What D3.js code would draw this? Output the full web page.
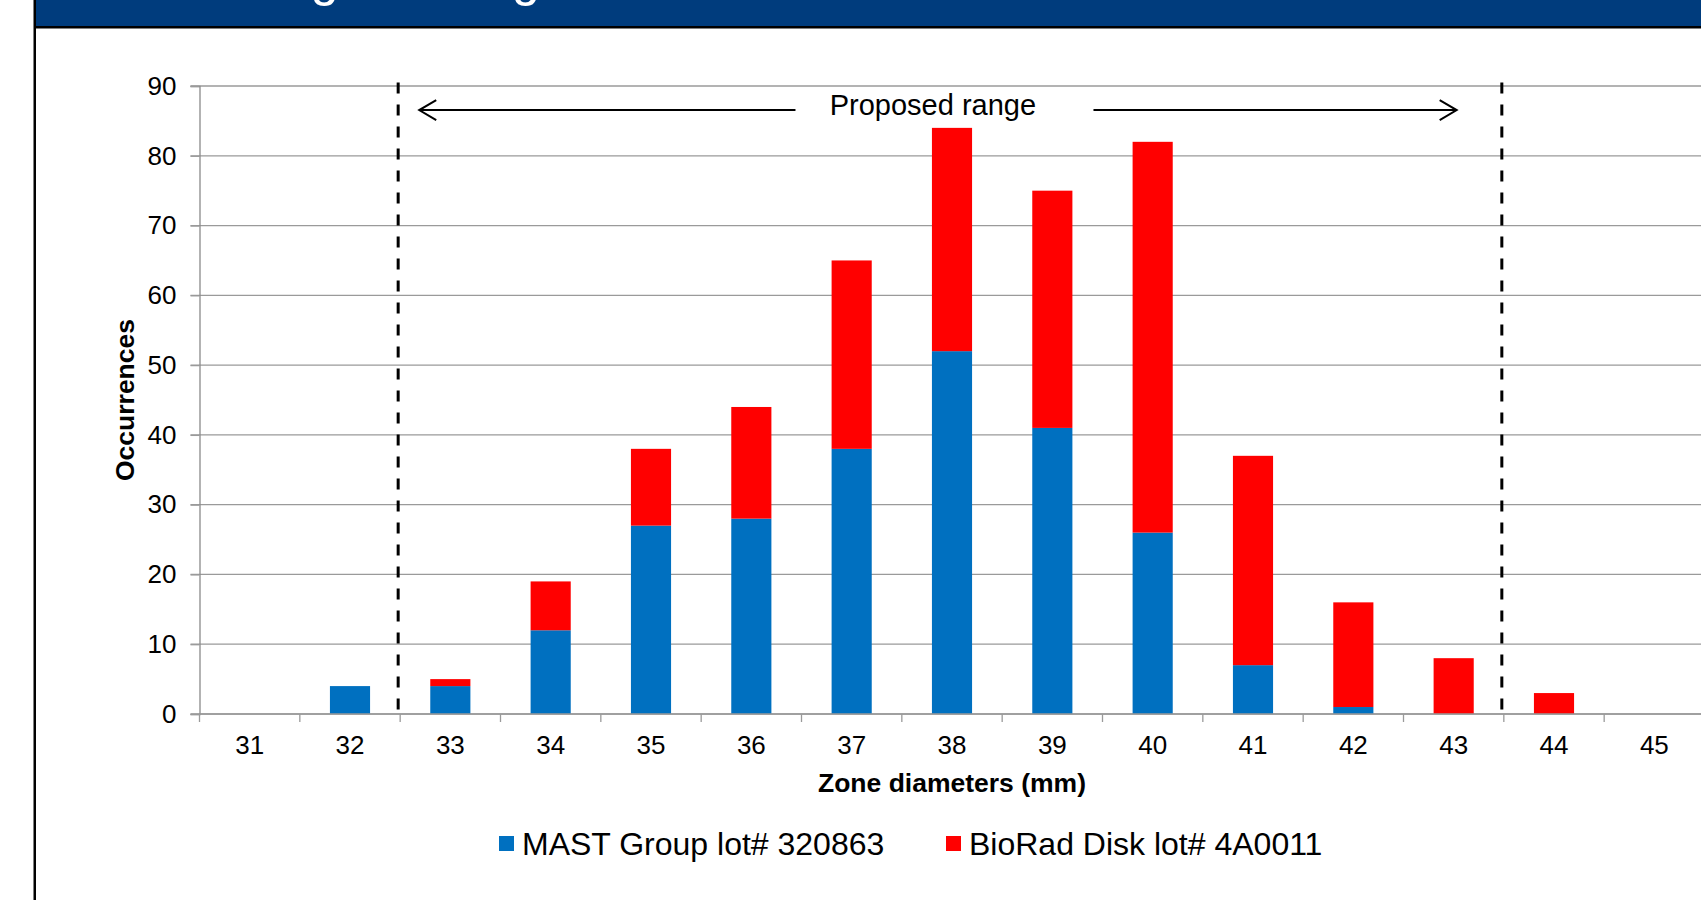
<!DOCTYPE html>
<html>
<head>
<meta charset="utf-8">
<script src="https://cdn.jsdelivr.net/npm/d3@7"></script>
<style>
  html, body { margin: 0; padding: 0; background: #fff; overflow: hidden; }
  svg { display: block; font-family: "Liberation Sans", Arial, sans-serif; }
</style>
</head>
<body>
<svg id="chart" width="1701" height="900"></svg>
<script>
const categories = ["31","32","33","34","35","36","37","38","39","40","41","42","43","44","45"];
const mastValues = [0, 4, 4, 12, 27, 28, 38, 52, 41, 26, 7, 1, 0, 0, 0];
const bioradValues = [0, 0, 1, 7, 11, 16, 27, 32, 34, 56, 30, 15, 8, 3, 0];
const seriesNames = ["MAST Group lot# 320863", "BioRad Disk lot# 4A0011"];
const seriesKeys = ["mast", "biorad"];
const seriesColors = ["#0070C0", "#FF0000"];
const yTicks = [0, 10, 20, 30, 40, 50, 60, 70, 80, 90];
const rangeBounds = [32.5, 43.5];           // dashed limits (between categories)
const rangeLabel = "Proposed range";
const headerTitle = "Setting the range";
const xTitle = "Zone diameters (mm)";
const yTitle = "Occurrences";

const svg = d3.select("#chart");
const W = 1701;
const plot = { left: 199.5, right: 1704.5, top: 86, bottom: 714 };

// Header band
svg.append("rect").attr("x", 35).attr("y", 0).attr("width", W - 35).attr("height", 26).attr("fill", "#003C7D");
svg.append("text").attr("x", 180).attr("y", -5).attr("fill", "#fff")
  .attr("font-size", 51).text(headerTitle);
svg.append("rect").attr("x", 34).attr("y", 26).attr("width", W - 34).attr("height", 2.5).attr("fill", "#000");
svg.append("rect").attr("x", 33.5).attr("y", 0).attr("width", 2.5).attr("height", 900).attr("fill", "#000");

// Scales
const x = d3.scaleBand().domain(categories).range([plot.left, plot.right])
  .paddingInner(0.6).paddingOuter(0.3);
const xLin = d3.scaleLinear().domain([30.5, 45.5]).range([plot.left, plot.right]);
const y = d3.scaleLinear().domain([0, 90]).range([plot.bottom, plot.top]);

// Gridlines
svg.append("g").selectAll("line").data(yTicks).join("line")
  .attr("x1", plot.left - 9).attr("x2", W)
  .attr("y1", d => y(d)).attr("y2", d => y(d))
  .attr("stroke", "#9a9a9a").attr("stroke-width", 1.3);

// Y axis
const yAxis = svg.append("g").attr("transform", `translate(${plot.left},0)`)
  .call(d3.axisLeft(y).tickValues(yTicks).tickSize(9).tickPadding(14).tickFormat(d3.format("d")));
yAxis.select(".domain").attr("stroke", "#8a8a8a").attr("stroke-width", 1.3);
yAxis.selectAll(".tick line").attr("stroke", "#9a9a9a").attr("stroke-width", 1.3);
yAxis.selectAll("text").attr("font-size", 26).attr("fill", "#000")
  .attr("font-family", "'Liberation Sans', Arial, sans-serif");

// Stacked bars
const rows = categories.map((c, i) => ({ cat: c, mast: mastValues[i], biorad: bioradValues[i] }));
const stacked = d3.stack().keys(seriesKeys)(rows);
svg.append("g").selectAll("g").data(stacked).join("g")
  .attr("fill", (d, i) => seriesColors[i])
  .selectAll("rect").data(d => d).join("rect")
  .attr("x", d => x(d.data.cat))
  .attr("width", x.bandwidth())
  .attr("y", d => y(d[1]))
  .attr("height", d => y(d[0]) - y(d[1]));

// X axis baseline and ticks at category boundaries
svg.append("line").attr("x1", plot.left).attr("x2", W).attr("y1", plot.bottom).attr("y2", plot.bottom)
  .attr("stroke", "#9a9a9a").attr("stroke-width", 1.3);
const boundaries = d3.range(categories.length + 1).map(i => 30.5 + i);
svg.append("g").selectAll("line").data(boundaries).join("line")
  .attr("x1", d => xLin(d)).attr("x2", d => xLin(d))
  .attr("y1", plot.bottom).attr("y2", plot.bottom + 8)
  .attr("stroke", "#9a9a9a").attr("stroke-width", 1.3);
const xAxis = svg.append("g").attr("transform", `translate(0,${plot.bottom})`)
  .call(d3.axisBottom(x).tickSize(0).tickPadding(22));
xAxis.select(".domain").remove();
xAxis.selectAll("text").attr("font-size", 26).attr("fill", "#000")
  .attr("font-family", "'Liberation Sans', Arial, sans-serif");

// Dashed range limits
svg.append("g").selectAll("line").data(rangeBounds).join("line")
  .attr("x1", d => xLin(d) - 2).attr("x2", d => xLin(d) - 2)
  .attr("y1", plot.top - 3.5).attr("y2", plot.bottom + 1)
  .attr("stroke", "#000").attr("stroke-width", 3)
  .attr("stroke-dasharray", "11,11");

// Proposed range arrows
const arrowY = y(86.55);
const leftTip = xLin(32.69), leftEnd = xLin(36.44);
const rightStart = xLin(39.41), rightTip = xLin(43.03);
const ann = svg.append("g").attr("stroke", "#000").attr("stroke-width", 2).attr("fill", "none");
ann.append("line").attr("x1", leftTip).attr("x2", leftEnd).attr("y1", arrowY).attr("y2", arrowY);
ann.append("path").attr("d", `M${leftTip + 17},${arrowY - 10} L${leftTip},${arrowY} L${leftTip + 17},${arrowY + 10}`);
ann.append("line").attr("x1", rightStart).attr("x2", rightTip).attr("y1", arrowY).attr("y2", arrowY);
ann.append("path").attr("d", `M${rightTip - 17},${arrowY - 10} L${rightTip},${arrowY} L${rightTip - 17},${arrowY + 10}`);
svg.append("text").attr("x", xLin(37.81)).attr("y", y(85.8)).attr("text-anchor", "middle")
  .attr("font-size", 29).attr("fill", "#000").text(rangeLabel);

// Axis titles
svg.append("text").attr("x", (plot.left + plot.right) / 2).attr("y", 792)
  .attr("text-anchor", "middle").attr("font-weight", "bold").attr("font-size", 26.5).attr("fill", "#000")
  .text(xTitle);
svg.append("text").attr("transform", `translate(133.5,${(plot.top + plot.bottom) / 2}) rotate(-90)`)
  .attr("text-anchor", "middle").attr("font-weight", "bold").attr("font-size", 26.5).attr("fill", "#000")
  .text(yTitle);

// Legend
const legendX = [499, 946];
const lg = svg.append("g").selectAll("g").data(seriesNames).join("g")
  .attr("transform", (d, i) => `translate(${legendX[i]},836)`);
lg.append("rect").attr("width", 15).attr("height", 15).attr("fill", (d, i) => seriesColors[i]);
lg.append("text").attr("x", 23).attr("y", 19).attr("font-size", 32).attr("fill", "#000").text(d => d);
</script>
</body>
</html>
